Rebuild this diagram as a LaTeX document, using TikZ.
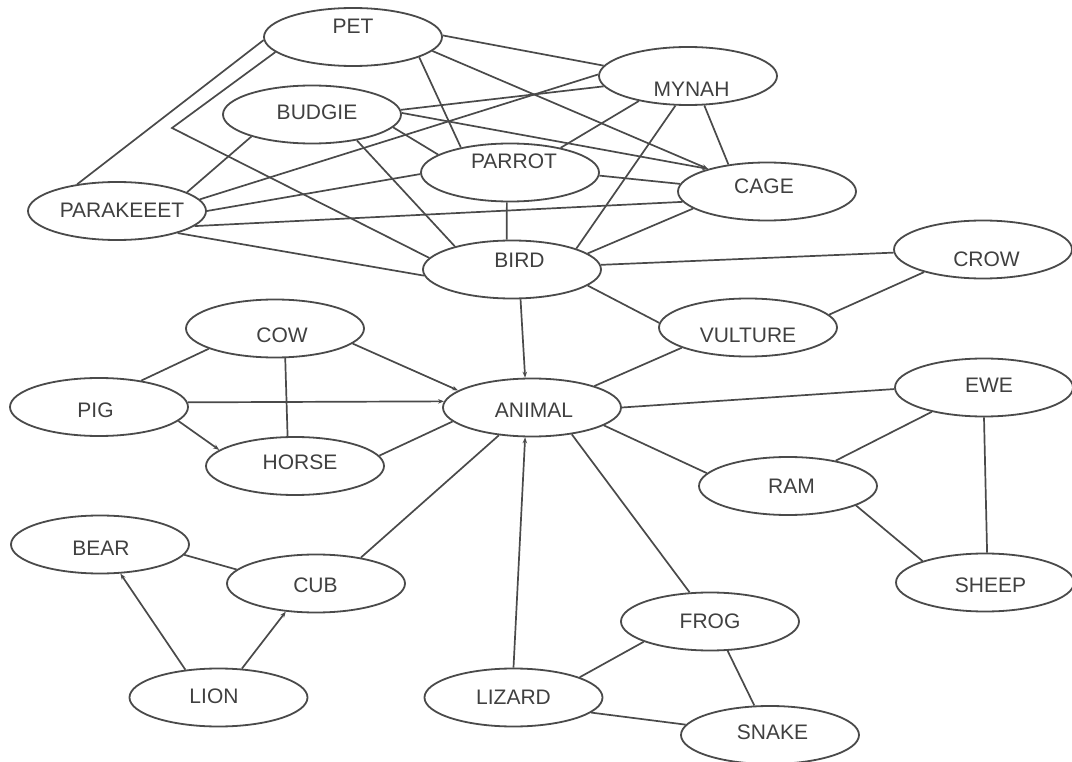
\documentclass[tikz,border=0pt]{standalone}
\usepackage{fontspec}
\setmainfont{Liberation Sans}
\usetikzlibrary{shapes.geometric,arrows.meta}
\definecolor{linec}{HTML}{4A4A4A}
\definecolor{textc}{HTML}{404040}
\begin{document}
\begin{tikzpicture}[x=1pt,y=-1pt,
  el/.style={ellipse, draw=linec, line width=1.8pt, minimum width=178pt, minimum height=58pt, inner sep=0pt},
  lbl/.style={text=textc, font=\fontsize{21}{25}\selectfont, inner sep=0pt},
  ln/.style={draw=linec, line width=1.7pt},
  arr/.style={-{Stealth[length=6pt,width=4.5pt]}}]
\useasboundingbox[fill=white] (0,0) rectangle (1072,762);
% nodes
\node[el,label={[lbl,yshift=11pt]center:PET}] (pet) at (353,37) {};
\node[el,label={[lbl,xshift=5pt,yshift=2pt]center:BUDGIE}] (budgie) at (312,114.5) {};
\node[el,label={[lbl,xshift=5pt,yshift=1pt]center:PARAKEEET}] (parakeeet) at (117,211) {};
\node[el,label={[lbl,xshift=4pt,yshift=11.5pt]center:PARROT}] (parrot) at (510,172.5) {};
\node[el,label={[lbl,xshift=3.5pt,yshift=-13pt]center:MYNAH}] (mynah) at (688,76) {};
\node[el,label={[lbl,xshift=-3pt,yshift=5.5pt]center:CAGE}] (cage) at (767,191.5) {};
\node[el,label={[lbl,xshift=7.5pt,yshift=9pt]center:BIRD}] (bird) at (512,269.5) {};
\node[el,label={[lbl,xshift=3.5pt,yshift=-10pt]center:CROW}] (crow) at (983,249.5) {};
\node[el,label={[lbl,yshift=-7.5pt]center:VULTURE}] (vulture) at (748,327.5) {};
\node[el,label={[lbl,xshift=7pt,yshift=-6.5pt]center:COW}] (cow) at (275,328.5) {};
\node[el,label={[lbl,xshift=-3.5pt,yshift=-3pt]center:PIG}] (pig) at (99,407) {};
\node[el,label={[lbl,xshift=5pt,yshift=4pt]center:HORSE}] (horse) at (295,466) {};
\node[el,label={[lbl,xshift=2pt,yshift=-2.5pt]center:ANIMAL}] (animal) at (532,407.5) {};
\node[el,label={[lbl,xshift=5pt,yshift=2.5pt]center:EWE}] (ewe) at (984,387.5) {};
\node[el,label={[lbl,xshift=3.5pt]center:RAM}] (ram) at (788,486) {};
\node[el,label={[lbl,xshift=5.5pt,yshift=-2.5pt]center:SHEEP}] (sheep) at (985,582.5) {};
\node[el,label={[lbl,xshift=1pt,yshift=-4pt]center:BEAR}] (bear) at (100,544.5) {};
\node[el,label={[lbl,xshift=-0.5pt,yshift=-2pt]center:CUB}] (cub) at (316,583.5) {};
\node[el,label={[lbl,xshift=-4.5pt,yshift=1.5pt]center:LION}] (lion) at (218.5,697.5) {};
\node[el,label={[lbl]center:FROG}] (frog) at (710,621.5) {};
\node[el,label={[lbl]center:LIZARD}] (lizard) at (513.5,697.5) {};
\node[el,label={[lbl,xshift=2.5pt,yshift=2.5pt]center:SNAKE}] (snake) at (770,735) {};
\coordinate (bend) at (172,128);
% top cluster
\draw[ln] (pet.182) -- (parakeeet.146);
\draw[ln] (pet.191) -- (bend) -- (bird.172);
\draw[ln] (pet.1) -- (mynah.173);
\draw[ln,arr] (pet.-10) -- (cage.159);
\draw[ln] (pet.-17) -- (parrot.153);
\draw[ln] (parakeeet.15) -- (budgie.200);
\draw[ln] (mynah.179) -- (parakeeet.8);
\draw[ln] (budgie.3) -- (mynah.187);
\draw[ln,arr] (budgie.1) -- (cage.159);
\draw[ln] (budgie.-9) -- (parrot.166);
\draw[ln] (budgie.-30) -- (bird.158);
\draw[ln] (parakeeet.0) -- (parrot.181);
\draw[ln] (parakeeet.-11) -- (cage.187);
\draw[ln] (parakeeet.-20) -- (bird.184);
\draw[ln] (parrot.-96) -- (bird.100);
\draw[ln] (parrot.-2) -- (cage.175);
\draw[ln] (parrot.26) -- (mynah.207);
\draw[ln] (mynah.247) -- (bird.18);
\draw[ln] (mynah.-61) -- (cage.145);
\draw[ln] (cage.193) -- (bird.12);
\draw[ln] (bird.3) -- (crow.182);
\draw[ln] (bird.-12) -- (vulture.177);
\draw[ln] (crow.201) -- (vulture.9);
\draw[ln,arr] (bird.-74.5) -- (animal.103);
% animal cluster
\draw[ln] (vulture.197) -- (animal.19.5);
\draw[ln] (animal.0.5) -- (ewe.181);
\draw[ln] (animal.-14) -- (ram.171);
\draw[ln] (animal.-34) -- (frog.125);
\draw[ln] (ewe.205) -- (ram.28);
\draw[ln] (ewe.-90.5) -- (sheep.86);
\draw[ln] (ram.-16) -- (sheep.161);
\draw[ln] (frog.197) -- (lizard.17);
\draw[ln] (frog.-59) -- (snake.118);
\draw[ln] (lizard.-11) -- (snake.173);
\draw[ln] (cow.197) -- (pig.32);
\draw[ln] (cow.-71) -- (horse.104);
\draw[ln,arr] (cow.-11.5) -- (animal.167);
\draw[ln,arr] (pig.3.5) -- (animal.176);
\draw[ln,arr] (pig.-10) -- (horse.168);
\draw[ln] (horse.7) -- (animal.190);
\draw[ln] (animal.220) -- (cub.30);
\draw[ln] (bear.-7) -- (cub.170);
\draw[ln,arr] (lion.140) -- (bear.-55);
\draw[ln,arr] (lion.51) -- (cub.223);
\draw[ln,arr] (lizard.90) -- (animal.-103);
\end{tikzpicture}
\end{document}
